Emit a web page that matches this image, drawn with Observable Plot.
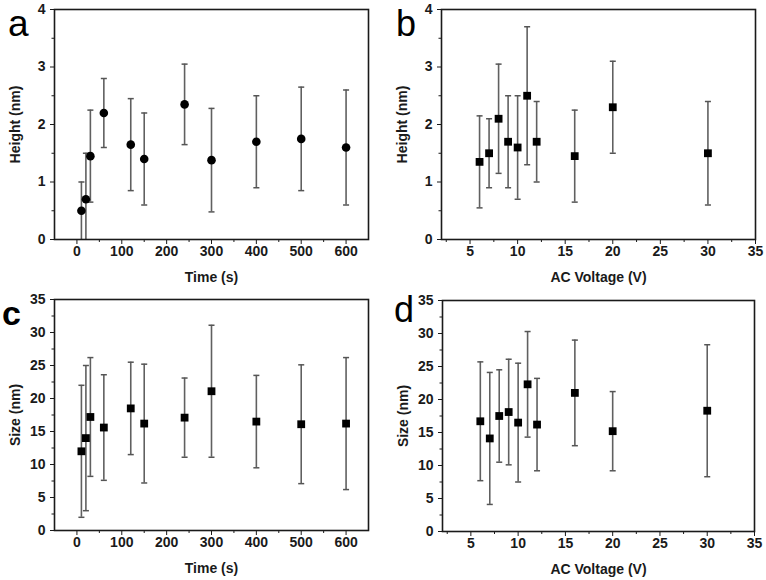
<!DOCTYPE html>
<html>
<head>
<meta charset="utf-8">
<script src="https://cdn.jsdelivr.net/npm/d3@7"></script>
<script src="https://cdn.jsdelivr.net/npm/@observablehq/plot@0.6"></script>
<style>
  html, body { margin: 0; padding: 0; background: #fff; }
  #root { position: relative; width: 766px; height: 580px; overflow: hidden; font-family: "Liberation Sans", Arial, sans-serif; }
  .panel { position: absolute; width: 383px; height: 290px; }
  .panel svg text { font-size: 14px !important; font-weight: bold !important; font-family: "Liberation Sans", Arial, sans-serif !important; }
  #letters { position: absolute; left: 0; top: 0; pointer-events: none; }
</style>
</head>
<body>
<div id="root">
  <div class="panel" id="pa" style="left:0;top:0"></div>
  <div class="panel" id="pb" style="left:383px;top:0"></div>
  <div class="panel" id="pc" style="left:0;top:290px"></div>
  <div class="panel" id="pd" style="left:383px;top:290px"></div>
  <svg id="letters" width="766" height="580" font-family="Liberation Sans, Arial, sans-serif">
    <text x="8" y="36" font-size="37">a</text>
    <text x="396" y="36" font-size="36">b</text>
    <text x="2" y="325" font-size="34" font-weight="bold">c</text>
    <text x="394" y="322" font-size="36">d</text>
  </svg>
</div>
<script>
// ---- data ----
const timeS = [10, 20, 30, 60, 120, 150, 240, 300, 400, 500, 600];
const heightByTime = [0.5, 0.7, 1.45, 2.2, 1.65, 1.4, 2.35, 1.38, 1.7, 1.75, 1.6];
const heightByTimeErr = [0.5, 0.8, 0.8, 0.6, 0.8, 0.8, 0.7, 0.9, 0.8, 0.9, 1.0];
const sizeByTime = [12.0, 14.0, 17.2, 15.6, 18.5, 16.2, 17.1, 21.1, 16.5, 16.1, 16.2];
const sizeByTimeErr = [10, 11, 9, 8, 7, 9, 6, 10, 7, 9, 10];

const voltageV = [6, 7, 8, 9, 10, 11, 12, 16, 20, 30];
const heightByVoltage = [1.35, 1.5, 2.1, 1.7, 1.6, 2.5, 1.7, 1.45, 2.3, 1.5];
const heightByVoltageErr = [0.8, 0.6, 0.95, 0.8, 0.9, 1.2, 0.7, 0.8, 0.8, 0.9];
const sizeByVoltage = [16.7, 14.1, 17.5, 18.1, 16.5, 22.3, 16.2, 21.0, 15.2, 18.3];
const sizeByVoltageErr = [9, 10, 7, 8, 9, 8, 7, 8, 6, 10];

const timeTicks = [0, 100, 200, 300, 400, 500, 600];
const timeMinor = [50, 150, 250, 350, 450, 550];
const voltTicks = [5, 10, 15, 20, 25, 30, 35];
const voltMinor = [2.5, 7.5, 12.5, 17.5, 22.5, 27.5, 32.5];
const heightTicks = [0, 1, 2, 3, 4];
const heightMinor = [0.5, 1.5, 2.5, 3.5];
const sizeTicks = [0, 5, 10, 15, 20, 25, 30, 35];
const sizeMinor = [2.5, 7.5, 12.5, 17.5, 22.5, 27.5, 32.5];

// horizontal cap symbol for error bars
const capSymbol = {
  draw(context, size) {
    const w = Math.sqrt(size) / 2;
    context.moveTo(-w, 0);
    context.lineTo(w, 0);
  }
};

function rows(xs, ys, es) {
  return xs.map((x, i) => ({x, y: ys[i], lo: ys[i] - es[i], hi: ys[i] + es[i]}));
}

const fmt = d => String(d);

function panel(el, cfg) {
  const data = rows(cfg.xs, cfg.ys, cfg.es);
  const fig = Plot.plot({
    width: 383,
    height: 290,
    marginLeft: cfg.m[0],
    marginRight: cfg.m[1],
    marginTop: cfg.m[2],
    marginBottom: cfg.m[3],
    style: {fontFamily: "Liberation Sans, Arial, sans-serif", fontSize: "14px", fontWeight: "bold", color: "#1a1a1a", background: "#fff"},
    x: {domain: cfg.xDomain},
    y: {domain: cfg.yDomain},
    marks: [
      Plot.ruleX(data, {x: "x", y1: "lo", y2: "hi", stroke: "#606060", strokeWidth: 1.6, clip: true}),
      Plot.dot(data, {x: "x", y: "hi", symbol: capSymbol, r: 3.4, stroke: "#555", strokeWidth: 1.5, clip: true}),
      Plot.dot(data.filter(d => d.lo > 0.01), {x: "x", y: "lo", symbol: capSymbol, r: 3.4, stroke: "#555", strokeWidth: 1.5, clip: true}),
      Plot.dot(data, {x: "x", y: "y", symbol: cfg.symbol, r: cfg.r, fill: "#000", stroke: "none"}),
      Plot.axisX({ticks: cfg.xTicks, tickFormat: fmt, tickSize: 5, tickPadding: 2, label: cfg.xLabel, labelAnchor: "center", labelArrow: "none", labelOffset: 42}),
      Plot.axisX({ticks: cfg.xMinor, tickSize: 3, text: null, label: null}),
      Plot.axisY({ticks: cfg.yTicks, tickFormat: fmt, tickSize: 4, tickPadding: 5, label: cfg.yLabel, labelAnchor: "center", labelArrow: "none", labelOffset: 44}),
      Plot.axisY({ticks: cfg.yMinor, tickSize: 2.5, text: null, label: null}),
      Plot.frame({stroke: "#1a1a1a", strokeWidth: 1.6})
    ]
  });
  document.getElementById(el).appendChild(fig);
}

panel("pa", {xs: timeS, ys: heightByTime, es: heightByTimeErr, symbol: "circle", r: 4.3,
  xDomain: [-50, 650], yDomain: [0, 4], xTicks: timeTicks, xMinor: timeMinor, yTicks: heightTicks, yMinor: heightMinor,
  xLabel: "Time (s)", yLabel: "Height (nm)", m: [54, 15, 9, 51]});
panel("pb", {xs: voltageV, ys: heightByVoltage, es: heightByVoltageErr, symbol: "square", r: 4.4,
  xDomain: [2, 35], yDomain: [0, 4], xTicks: voltTicks, xMinor: voltMinor, yTicks: heightTicks, yMinor: heightMinor,
  xLabel: "AC Voltage (V)", yLabel: "Height (nm)", m: [58, 11, 9, 51]});
panel("pc", {xs: timeS, ys: sizeByTime, es: sizeByTimeErr, symbol: "square", r: 4.4,
  xDomain: [-50, 650], yDomain: [0, 35], xTicks: timeTicks, xMinor: timeMinor, yTicks: sizeTicks, yMinor: sizeMinor,
  xLabel: "Time (s)", yLabel: "Size (nm)", m: [54, 15, 9, 50]});
panel("pd", {xs: voltageV, ys: sizeByVoltage, es: sizeByVoltageErr, symbol: "square", r: 4.4,
  xDomain: [2, 35], yDomain: [0, 35], xTicks: voltTicks, xMinor: voltMinor, yTicks: sizeTicks, yMinor: sizeMinor,
  xLabel: "AC Voltage (V)", yLabel: "Size (nm)", m: [59, 12, 10, 49]});
</script>
</body>
</html>
